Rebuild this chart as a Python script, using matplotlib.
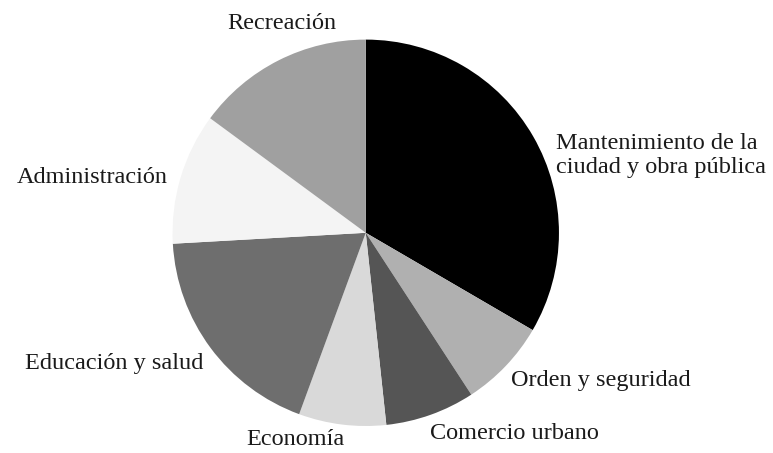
import matplotlib
matplotlib.use('Agg')
import matplotlib.pyplot as plt

# shares, clockwise from 12 o'clock
labels = ['Mantenimiento de la\nciudad y obra pública', 'Orden y seguridad',
          'Comercio urbano', 'Economía', 'Educación y salud',
          'Administración', 'Recreación']
values = [33.4, 7.4, 7.5, 7.3, 18.5, 11.0, 14.9]
colors = ['#000000', '#b0b0b0', '#555555', '#d9d9d9', '#6e6e6e',
          '#f4f4f4', '#a0a0a0']

# label anchors (data units, pie radius = 1)
label_pos = [(0.985, 0.40, 'left'), (0.752, -0.762, 'left'), (0.333, -1.041, 'left'),
             (-0.366, -1.072, 'center'), (-0.842, -0.678, 'right'),
             (-1.023, 0.284, 'right'), (-0.433, 1.082, 'center')]

plt.rcParams['font.family'] = ['Liberation Serif', 'DejaVu Serif']

fig = plt.figure(figsize=(7.73, 4.53), dpi=100)
ax = fig.add_axes([0.2232, 0.0596, 0.4999, 0.853])
wedges, texts = ax.pie(values, labels=labels, colors=colors, startangle=90,
                       counterclock=False, radius=1,
                       wedgeprops=dict(linewidth=0))
for t, (x, y, ha) in zip(texts, label_pos):
    t.set_position((x, y))
    t.set_ha(ha)
    t.set_va('center')
    t.set_fontsize(17.5)
    t.set_linespacing(1.15)
    t.set_color('#1a1a1a')
ax.set_xlim(-1, 1)
ax.set_ylim(-1, 1)
ax.set_aspect('equal')
ax.axis('off')

fig.savefig('out.png', dpi=100)
